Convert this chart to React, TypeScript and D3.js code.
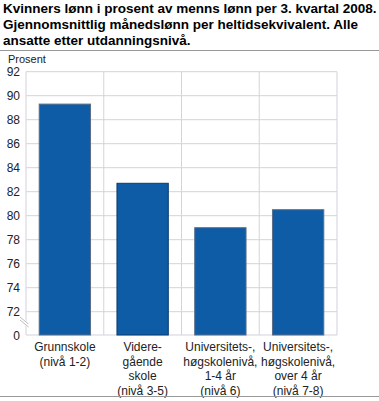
import React from "react";
import * as d3 from "d3";

const titleLines = [
  "Kvinners lønn i prosent av menns lønn per 3. kvartal 2008.",
  "Gjennomsnittlig månedslønn per heltidsekvivalent. Alle",
  "ansatte etter utdanningsnivå.",
];
const categories = [
  ["Grunnskole", "(nivå 1-2)"],
  ["Videre-", "gående", "skole", "(nivå 3-5)"],
  ["Universitets-,", "høgskolenivå,", "1-4 år", "(nivå 6)"],
  ["Universitets-,", "høgskolenivå,", "over 4 år", "(nivå 7-8)"],
];
const values = [89.3, 82.7, 79.0, 80.5];
const yTicks = [72, 74, 76, 78, 80, 82, 84, 86, 88, 90, 92];
const yUnit = "Prosent";

export default function App() {
  const W = 379, H = 401;
  const left = 26, right = 337, top = 71.7, y72 = 311.7, bottom = 335;
  const x = d3.scaleBand<number>().domain(d3.range(categories.length)).range([left, right]).paddingInner(0).paddingOuter(0);
  const y = d3.scaleLinear().domain([72, 92]).range([y72, top]);
  const bw = x.bandwidth() * 0.66;
  const grid = "#d3d3db";
  const font = "Liberation Sans, Arial, sans-serif";
  return (
    <svg width={W} height={H} style={{ position: "absolute", left: 0, top: 0, background: "#fff" }} fontFamily={font}>
      {titleLines.map((t, i) => (
        <text key={i} x={3} y={13 + i * 16} fontSize={13.5} fontWeight="bold" fill="#000">{t}</text>
      ))}
      <line x1={0} x2={W} y1={50.5} y2={50.5} stroke="#999" strokeWidth={1} />
      <text x={8} y={63} fontSize={11} fill="#222">{yUnit}</text>
      {/* horizontal grid */}
      {yTicks.map((t) => (
        <line key={t} x1={left} x2={right} y1={y(t)} y2={y(t)} stroke={grid} strokeWidth={1} />
      ))}
      <line x1={left} x2={right} y1={bottom} y2={bottom} stroke={grid} strokeWidth={1} />
      {/* vertical grid */}
      {categories.map((_, i) => (
        <line key={i} x1={(x(i) as number) + x.bandwidth()} x2={(x(i) as number) + x.bandwidth()} y1={top} y2={bottom} stroke={grid} strokeWidth={1} />
      ))}
      <line x1={left} x2={left} y1={top} y2={bottom} stroke={grid} strokeWidth={1} />
      {/* bars */}
      {values.map((v, i) => {
        const cx = (x(i) as number) + x.bandwidth() / 2;
        return (
          <rect key={i} x={cx - bw / 2} y={y(v)} width={bw} height={bottom - y(v)} fill="#0e5ba6" stroke={i === 1 ? "#0b3a6c" : "#5a6e88"} strokeWidth={1} />
        );
      })}
      {/* y tick labels */}
      {yTicks.map((t) => (
        <text key={t} x={20} y={y(t) + 4.5} fontSize={12} textAnchor="end" fill="#222">{t}</text>
      ))}
      <text x={20} y={bottom + 4.5} fontSize={12} textAnchor="end" fill="#222">0</text>
      {/* break symbol */}
      <g>
        <line x1={19.5} y1={318} x2={29} y2={326} stroke="#fff" strokeWidth={4} />
        <line x1={20} y1={317} x2={28.5} y2={324} stroke="#aaa" strokeWidth={0.8} />
        <line x1={20} y1={320} x2={28.5} y2={327} stroke="#aaa" strokeWidth={0.8} />
      </g>
      {/* x labels */}
      {categories.map((lines, i) => {
        const cx = (x(i) as number) + x.bandwidth() / 2;
        return lines.map((l, j) => (
          <text key={i + "-" + j} x={cx} y={351 + j * 14.5} fontSize={12} textAnchor="middle" fill="#222">{l}</text>
        ));
      })}
      <line x1={0} x2={W} y1={396.5} y2={396.5} stroke="#999" strokeWidth={1} />
    </svg>
  );
}
